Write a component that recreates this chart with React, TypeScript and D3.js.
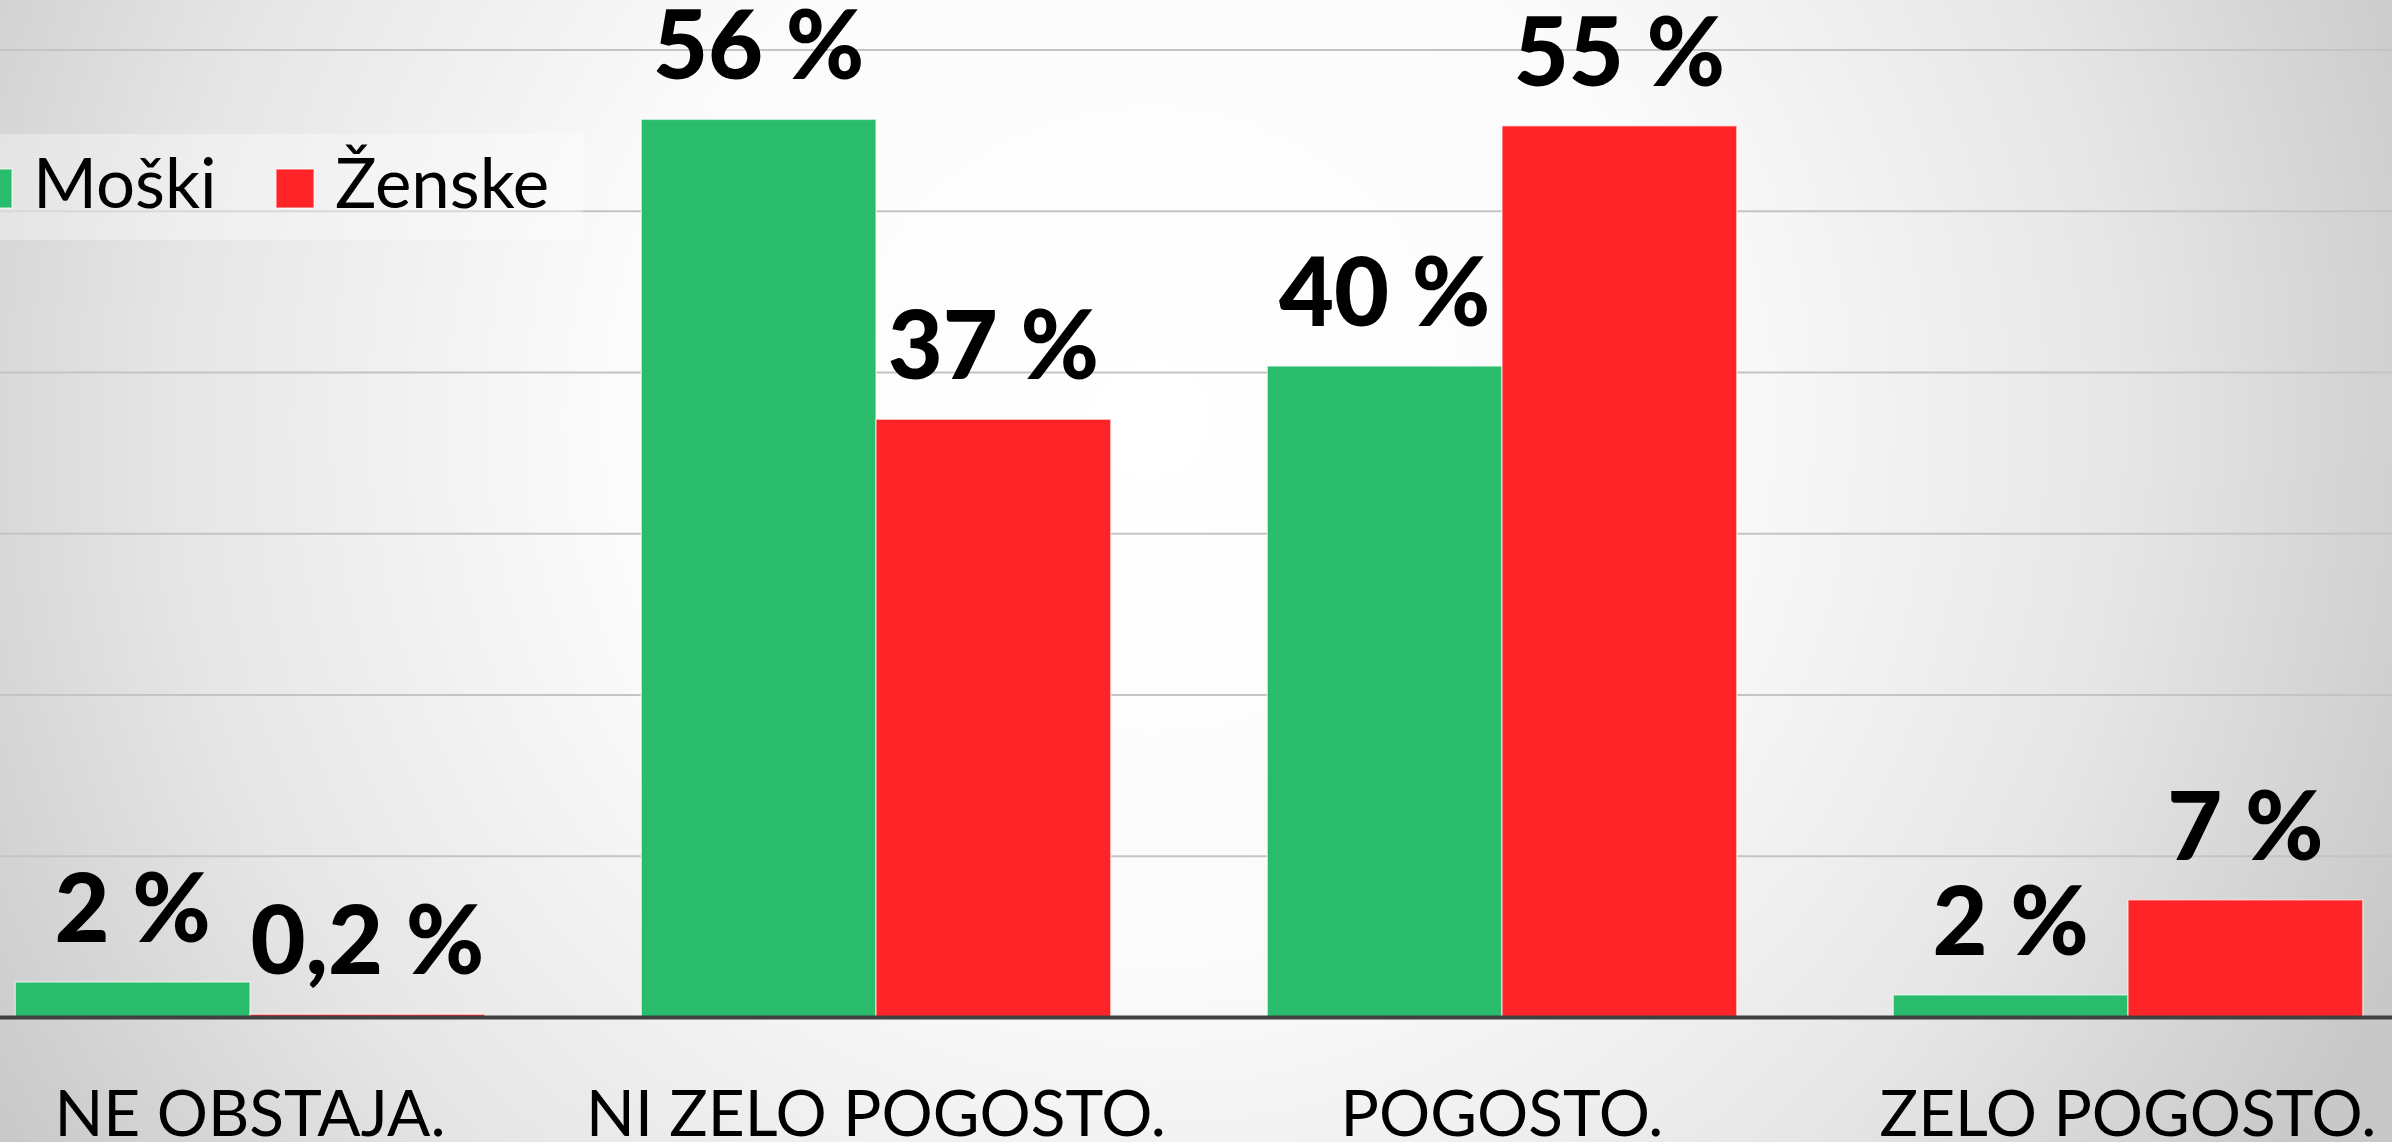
import React, { useEffect, useRef } from "react";
import * as d3 from "d3";

const categories = ["NE OBSTAJA.", "NI ZELO POGOSTO.", "POGOSTO.", "ZELO POGOSTO."];
const seriesNames = ["Moški", "Ženske"];
const moski = [2.2, 55.7, 40.4, 1.4];
const zenske = [0.2, 37.1, 55.3, 7.3];
const moskiLabels = ["2 %", "56 %", "40 %", "2 %"];
const zenskeLabels = ["0,2 %", "37 %", "55 %", "7 %"];
const yTicks = [10, 20, 30, 40, 50, 60];
const colors = ["#29BC6C", "#FF2427"];

const W = 2392;
const H = 1142;

const App = () => {
  const ref = useRef<SVGSVGElement>(null);

  useEffect(() => {
    const svg = d3.select(ref.current);
    svg.selectAll("*").remove();

    // background radial gradient
    const defs = svg.append("defs");
    const grad = defs
      .append("radialGradient")
      .attr("id", "bg")
      .attr("gradientUnits", "userSpaceOnUse")
      .attr("cx", 1150)
      .attr("cy", 420)
      .attr("r", 1360);
    grad.append("stop").attr("offset", 0).attr("stop-color", "#ffffff");
    grad.append("stop").attr("offset", 0.4).attr("stop-color", "#fbfbfb");
    grad.append("stop").attr("offset", 0.72).attr("stop-color", "#e6e6e6");
    grad.append("stop").attr("offset", 1).attr("stop-color", "#c8c8c8");
    svg.append("rect").attr("width", W).attr("height", H).attr("fill", "url(#bg)");

    const x = d3
      .scaleBand()
      .domain(categories)
      .range([-63, 2441])
      .paddingInner(0.25)
      .paddingOuter(0.125);
    const xInner = d3.scaleBand().domain(seriesNames).range([0, x.bandwidth()]);
    const y = d3.scaleLinear().domain([0, 60]).range([1017.5, 50]);

    // gridlines
    svg
      .append("g")
      .selectAll("line")
      .data(yTicks)
      .enter()
      .append("line")
      .attr("x1", 0)
      .attr("x2", W)
      .attr("y1", (d) => y(d))
      .attr("y2", (d) => y(d))
      .attr("stroke", "#c4c4c4")
      .attr("stroke-width", 2);

    const series = [moski, zenske];
    const labels = [moskiLabels, zenskeLabels];

    series.forEach((vals, si) => {
      const g = svg.append("g");
      g.selectAll("rect")
        .data(vals)
        .enter()
        .append("rect")
        .attr("x", (d, i) => (x(categories[i]) as number) + (xInner(seriesNames[si]) as number))
        .attr("y", (d) => y(d))
        .attr("width", xInner.bandwidth())
        .attr("height", (d) => y(0) - y(d))
        .attr("fill", colors[si])
        .attr("stroke", "rgba(255,255,255,0.55)")
        .attr("stroke-width", 1.5);

      // value labels
      g.selectAll("text")
        .data(vals)
        .enter()
        .append("text")
        .attr(
          "x",
          (d, i) =>
            (x(categories[i]) as number) +
            (xInner(seriesNames[si]) as number) +
            xInner.bandwidth() / 2
        )
        .attr("y", (d) => y(d) - 40)
        .attr("text-anchor", "middle")
        .style("font-family", "Lato, 'Open Sans', sans-serif")
        .style("font-weight", "900")
        .style("font-size", "95px")
        .attr("fill", "#000")
        .text((d, i) => labels[si][i]);
    });

    // baseline
    svg
      .append("line")
      .attr("x1", 0)
      .attr("x2", W)
      .attr("y1", y(0))
      .attr("y2", y(0))
      .attr("stroke", "#404040")
      .attr("stroke-width", 4);

    // category labels
    svg
      .append("g")
      .selectAll("text")
      .data(categories)
      .enter()
      .append("text")
      .attr("x", (d) => (x(d) as number) + x.bandwidth() / 2)
      .attr("y", 1136)
      .attr("text-anchor", "middle")
      .style("font-family", "Lato, 'Open Sans', sans-serif")
      .style("font-size", "64px")
      .attr("fill", "#000")
      .text((d) => d);

    // legend
    const legend = svg.append("g");
    legend
      .append("rect")
      .attr("x", 0)
      .attr("y", 134)
      .attr("width", 583)
      .attr("height", 106)
      .attr("fill", "rgba(255,255,255,0.35)");
    seriesNames.forEach((name, i) => {
      const lx = -26 + i * 302;
      legend
        .append("rect")
        .attr("x", lx)
        .attr("y", 169)
        .attr("width", 38)
        .attr("height", 39)
        .attr("fill", colors[i])
        .attr("stroke", "rgba(255,255,255,0.55)")
        .attr("stroke-width", 1.5);
      legend
        .append("text")
        .attr("x", lx + 59)
        .attr("y", 208)
        .style("font-family", "Lato, 'Open Sans', sans-serif")
        .style("font-size", "69px")
        .attr("fill", "#000")
        .text(name);
    });
  }, []);

  return (
    <svg
      ref={ref}
      width={W}
      height={H}
      style={{ position: "absolute", left: 0, top: 0, display: "block" }}
    />
  );
};

export default App;
